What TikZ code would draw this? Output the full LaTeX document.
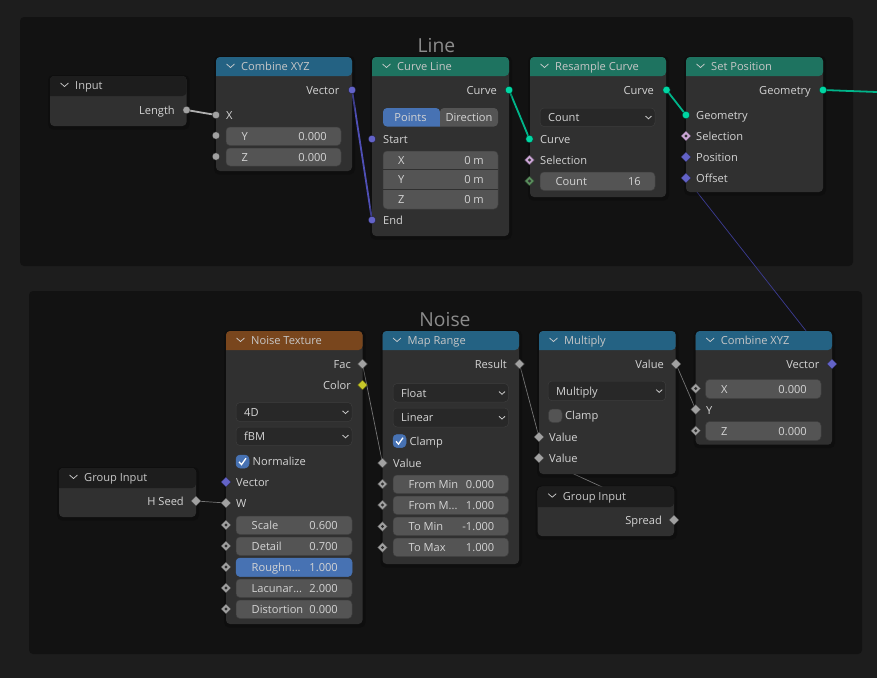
\documentclass[tikz,border=0pt]{standalone}
\usepackage{fontspec}
\setmainfont{Open Sans}
\usetikzlibrary{shapes.geometric}
\pgfdeclarelayer{frames}\pgfdeclarelayer{links}
\pgfsetlayers{frames,links,main}
\definecolor{bgc}{HTML}{1D1D1D}
\definecolor{framec}{HTML}{121212}
\definecolor{bodyc}{HTML}{303030}
\definecolor{fieldc}{HTML}{545454}
\definecolor{fieldb}{HTML}{3E3E3E}
\definecolor{ddc}{HTML}{282828}
\definecolor{ddb}{HTML}{3D3D3D}
\definecolor{txtc}{HTML}{D4D4D4}
\definecolor{tealh}{HTML}{1E7360}
\definecolor{blueh}{HTML}{246283}
\definecolor{orangeh}{HTML}{79461D}
\definecolor{darkh}{HTML}{1D1D1D}
\definecolor{selc}{HTML}{4772B3}
\definecolor{sgray}{HTML}{A1A1A1}
\definecolor{svec}{HTML}{6363C7}
\definecolor{sgeo}{HTML}{00D6A3}
\definecolor{spink}{HTML}{CCA6D6}
\definecolor{sint}{HTML}{598C5C}
\definecolor{scol}{HTML}{C7C729}
\newcounter{tc}
\tikzset{
  x=1pt,y=-1pt,
  lbl/.style={inner sep=0pt,text=txtc,font=\fontsize{11.1}{13}\selectfont,text height=10pt,text depth=1.5pt},
  title/.style={inner sep=0pt,text=white!78!black,font=\fontsize{11.1}{13}\selectfont,text height=10pt,text depth=1.5pt},
  big/.style={inner sep=0pt,text=white!55!black,font=\fontsize{19.3}{21}\selectfont},
  box/.style={inner sep=0pt,outer sep=0pt,rounded corners=4pt},
  sock/.style={inner sep=0pt,outer sep=0pt,circle,minimum size=7.4pt,fill=#1,draw=black!70!#1,line width=.3pt},
  dsock/.style={inner sep=0pt,outer sep=0pt,diamond,minimum size=9.6pt,aspect=1,fill=#1,draw=black!60!#1,line width=.3pt},
  hollow/.style={path picture={\fill[bodyc] (path picture bounding box.center) circle (1.6pt);}},
  lnk/.style={line width=1.8pt,draw=#1},
  thin lnk/.style={line width=.7pt,draw=#1},
}
% box by corners
\newcommand\Bx[7]{\node[box,fill=#6,draw=#7,line width=.5pt,minimum width={#4-#2},minimum height={#5-#3},anchor=center] (#1) at ({(#2+#4)/2},{(#3+#5)/2}) {};}
% blender node: name x1 y1 x2 y2 yh colour title
\newcommand\BN[8]{%
  \fill[black,opacity=.22,rounded corners=5pt] (#2-2,#3-1) rectangle (#4+3,#5+3.5);
  \node[box,fill=bodyc,minimum width={#4-#2},minimum height={#5-#3}] (#1) at ({(#2+#4)/2},{(#3+#5)/2}) {};
  \fill[#7,rounded corners=4pt] (#2,#6) -- (#2,#3) -- (#4,#3) -- (#4,#6) [sharp corners] -- cycle;
  \draw[white!82!black,line width=.7pt] (#2+10.5,#3+7) -- (#2+14.5,#3+10.5) -- (#2+18.5,#3+7);
  \node[title,anchor=west] (#1t) at (#2+25,{#3+9.1}) {#8};}
\newcommand\TL[3]{\stepcounter{tc}\node[lbl,anchor=west] (tl\arabic{tc}) at ({#1},{#2}) {#3};}
\newcommand\TR[3]{\stepcounter{tc}\node[lbl,anchor=east] (tr\arabic{tc}) at ({#1},{#2}) {#3};}
\newcommand\TC[3]{\stepcounter{tc}\node[lbl,anchor=center] (tc\arabic{tc}) at ({#1},{#2}) {#3};}
% field: x1 y1 x2 y2 label value
\newcommand\FD[6]{\stepcounter{tc}\Bx{fd\arabic{tc}}{#1}{#2}{#3}{#4}{fieldc}{fieldb}\TL{#1+15.5}{(#2+#4)/2}{#5}\TR{#3-14}{(#2+#4)/2}{#6}}
% selected field
\newcommand\FS[6]{\stepcounter{tc}\Bx{fd\arabic{tc}}{#1}{#2}{#3}{#4}{selc}{selc}\TL{#1+15.5}{(#2+#4)/2}{#5}\TR{#3-14}{(#2+#4)/2}{#6}}
% dropdown
\newcommand\DD[5]{\stepcounter{tc}\Bx{dd\arabic{tc}}{#1}{#2}{#3}{#4}{ddc}{ddb}\TL{#1+8}{(#2+#4)/2}{#5}%
  \draw[white!80!black,line width=.8pt] (#3-9.5,{(#2+#4)/2-1.2}) -- (#3-6.5,{(#2+#4)/2+1.5}) -- (#3-3.5,{(#2+#4)/2-1.2});}
% checkbox
\newcommand\CK[3]{\stepcounter{tc}\Bx{ck\arabic{tc}}{#1}{#2}{#1+13}{#2+13}{selc}{selc}%
  \draw[white,line width=1.3pt] (#1+3,#2+6.8) -- (#1+5.5,#2+9.6) -- (#1+10,#2+3.2);\TL{#1+16.5}{#2+6.5}{#3}}
\begin{document}
\begin{tikzpicture}
\useasboundingbox (0,0) rectangle (877,678);
\begin{pgfonlayer}{frames}
\fill[bgc] (0,0) rectangle (877,678);
\node[box,fill=framec,minimum width=833,minimum height=249] (fline) at (436.5,141.5) {};
\node[box,fill=framec,minimum width=833,minimum height=363] (fnoise) at (445.5,472.5) {};
\end{pgfonlayer}
\node[big] (lineT) at (436.5,45.5) {Line};
\node[big] (noiseT) at (445,319.5) {Noise};

% ---------- Line frame
\BN{input}{50}{76}{186.5}{126}{96}{darkh}{Input}
\TR{175}{110}{Length}
\node[sock=sgray] (inLen) at (186.5,110) {};

\BN{cxyz}{216}{57}{352}{171}{76}{blueh}{Combine XYZ}
\TR{339.5}{90}{Vector}
\TL{226}{115}{X}
\FD{226}{127}{341}{145.5}{Y}{0.000}
\FD{226}{148}{341}{166}{Z}{0.000}
\node[sock=svec] (cVec) at (352,90) {};
\node[sock=sgray] (cX) at (216,115) {};
\node[sock=sgray] (cY) at (216,135.5) {};
\node[sock=sgray] (cZ) at (216,156.5) {};

\BN{cline}{372}{57}{509}{236}{76}{tealh}{Curve Line}
\TR{497}{90}{Curve}
\fill[selc,rounded corners=4pt] (440,126.5) -- (383,126.5) -- (383,108) -- (440,108) [sharp corners] -- cycle;
\fill[fieldc,rounded corners=4pt] (440,126.5) -- (498,126.5) -- (498,108) -- (440,108) [sharp corners] -- cycle;
\TC{410.5}{117}{Points}
\TC{469}{117}{Direction}
\TL{383}{139}{Start}
\Bx{xyz}{383}{151}{498}{209}{fieldc}{fieldb}
\draw[bodyc,line width=.9pt] (383,169.5) -- (498,169.5) (383,189.5) -- (498,189.5);
\TL{398}{160}{X}\TR{484}{160}{0 m}
\TL{398}{179.5}{Y}\TR{484}{179.5}{0 m}
\TL{398}{199}{Z}\TR{484}{199}{0 m}
\TL{383}{220}{End}
\node[sock=svec] (lStart) at (372,139) {};
\node[sock=svec] (lEnd) at (372,220) {};
\node[sock=sgeo] (lOut) at (509,90) {};

\BN{resamp}{530}{57}{666}{197}{76}{tealh}{Resample Curve}
\TR{654}{90}{Curve}
\DD{540}{108}{655}{126.5}{Count}
\TL{540}{139}{Curve}
\TL{540}{160}{Selection}
\FD{540}{172}{655}{190.5}{Count}{16}
\node[sock=sgeo] (rIn) at (529.5,139) {};
\node[dsock=spink,hollow] (rSel) at (529.5,160) {};
\node[dsock=sint,hollow] (rCnt) at (529.5,181) {};
\node[sock=sgeo] (rOut) at (666.5,90) {};

\BN{setpos}{686}{57}{823}{192}{76}{tealh}{Set Position}
\TR{811}{90}{Geometry}
\TL{696}{115}{Geometry}
\TL{696}{136}{Selection}
\TL{696}{157}{Position}
\TL{696}{178}{Offset}
\node[sock=sgeo] (sIn) at (686,115) {};
\node[dsock=spink,hollow] (sSel) at (686,136) {};
\node[dsock=svec] (sPos) at (686,157) {};
\node[dsock=svec] (sOff) at (686,178) {};
\node[sock=sgeo] (sOut) at (823,90) {};
\coordinate (exit) at (877,92);

% ---------- Noise frame
\BN{ginput}{59}{468}{196}{517}{488}{darkh}{Group Input}
\TR{184}{501}{H Seed}
\node[dsock=sgray] (gSeed) at (196,501) {};

\BN{noise}{226}{331}{362.5}{624}{350}{orangeh}{Noise Texture}
\TR{351}{364}{Fac}
\TR{351}{385}{Color}
\DD{236}{402.5}{352}{421.5}{4D}
\DD{236}{427}{352}{445.5}{fBM}
\CK{236}{455}{Normalize}
\TL{236}{482}{Vector}
\TL{236}{503}{W}
\FD{236}{516}{352}{534.5}{Scale}{0.600}
\FD{236}{537}{352}{555.5}{Detail}{0.700}
\FS{236}{558}{352}{576.5}{Roughn...}{1.000}
\FD{236}{579}{352}{597.5}{Lacunar...}{2.000}
\FD{236}{600}{352}{618.5}{Distortion}{0.000}
\node[dsock=sgray] (nFac) at (362.5,364) {};
\node[dsock=scol] (nCol) at (362.5,385) {};
\node[dsock=svec] (nVec) at (226,482) {};
\node[dsock=sgray] (nW) at (226,503) {};
\foreach \n/\y in {nSc/525,nDe/546,nRo/567,nLa/588,nDi/609}{\node[dsock=sgray,hollow] (\n) at (226,\y) {};}

\BN{mrange}{382.5}{331}{519}{564}{350}{blueh}{Map Range}
\TR{507}{364}{Result}
\DD{393}{383.5}{508.5}{402}{Float}
\DD{393}{408}{508.5}{427}{Linear}
\CK{393}{434.5}{Clamp}
\TL{393}{463}{Value}
\FD{393}{475}{508.5}{493.5}{From Min}{0.000}
\FD{393}{496}{508.5}{514.5}{From M...}{1.000}
\FD{393}{517}{508.5}{535.5}{To Min}{-1.000}
\FD{393}{538}{508.5}{556.5}{To Max}{1.000}
\node[dsock=sgray] (mRes) at (519.5,364) {};
\node[dsock=sgray] (mVal) at (382.5,463) {};
\foreach \n/\y in {mA/484,mB/505,mC/526.5,mD/547.5}{\node[dsock=sgray,hollow] (\n) at (382.5,\y) {};}

\BN{mult}{539}{331}{675.7}{474}{350}{blueh}{Multiply}
\TR{664}{364}{Value}
\DD{548}{381}{665.7}{400.7}{Multiply}
\Bx{clampB}{548.5}{409}{562}{422.5}{fieldc}{fieldb}
\TL{565}{415.5}{Clamp}
\TL{549}{437}{Value}
\TL{549}{458}{Value}
\node[dsock=sgray] (muA) at (539,437) {};
\node[dsock=sgray] (muB) at (539,458) {};
\node[dsock=sgray] (muOut) at (676,364) {};

\BN{ginput2}{537.7}{486.7}{674}{536}{507}{darkh}{Group Input}
\TR{662}{520}{Spread}
\node[dsock=sgray] (gSpread) at (674,520) {};

\BN{cxyz2}{695.7}{331}{832}{444.7}{350}{blueh}{Combine XYZ}
\TR{819.5}{364}{Vector}
\FD{705.5}{379.5}{821}{398.5}{X}{0.000}
\TL{706}{410}{Y}
\FD{705.5}{421.5}{821}{440.5}{Z}{0.000}
\node[dsock=svec] (c2Vec) at (832,364) {};
\node[dsock=sgray,hollow] (c2X) at (695.7,388.5) {};
\node[dsock=sgray] (c2Y) at (695.7,409.5) {};
\node[dsock=sgray,hollow] (c2Z) at (695.7,430.7) {};

% ---------- links
\begin{pgfonlayer}{links}
\definecolor{lgray}{HTML}{B0B0B0}
\definecolor{lvec}{HTML}{4F4FB5}
\definecolor{lgeo}{HTML}{00B58A}
\definecolor{dgray}{HTML}{757575}
\definecolor{dvec}{HTML}{3C3C94}
\draw[lnk=lgray] (inLen.center) -- (cX.center);
\draw[lnk=lvec] (cVec.center) -- (lEnd.center);
\draw[lnk=lgeo] (lOut.center) -- (rIn.center);
\draw[lnk=lgeo] (rOut.center) -- (sIn.center);
\draw[lnk=lgeo] (sOut.center) -- (exit);
\draw[thin lnk=dvec] (c2Vec.center) -- (sOff.center);
\draw[thin lnk=dgray] (gSeed.center) -- (nW.center);
\draw[thin lnk=dgray] (nFac.center) -- (mVal.center);
\draw[thin lnk=dgray] (mRes.center) -- (muA.center);
\draw[thin lnk=dgray] (gSpread.center) -- (muB.center);
\draw[thin lnk=dgray] (muOut.center) -- (c2Y.center);
\end{pgfonlayer}
\end{tikzpicture}
\end{document}
